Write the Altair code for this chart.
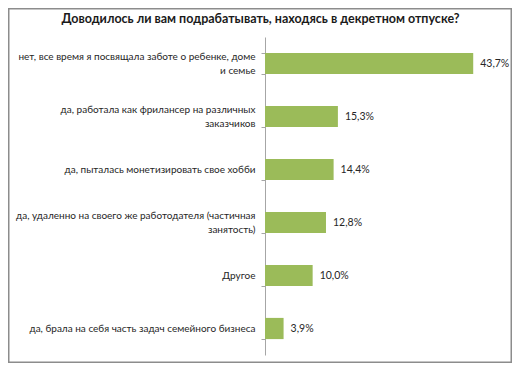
import altair as alt
import pandas as pd

categories = [
    "нет, все время я посвящала заботе о ребенке,  доме\nи семье",
    "да, работала как фрилансер на различных\nзаказчиков",
    "да, пыталась монетизировать свое хобби",
    "да, удаленно на своего же работодателя (частичная\nзанятость)",
    "Другое",
    "да, брала на себя часть задач семейного бизнеса",
]
values = [43.7, 15.3, 14.4, 12.8, 10.0, 3.9]

df = pd.DataFrame({"cat": categories, "value": values})

W, H = 243, 318
PL, PT, PR, PB = 257, 29, 4, 8
FONT = "Lato"

y = alt.Y(
    "cat:N",
    sort=None,
    scale=alt.Scale(paddingInner=0.6, paddingOuter=0.3),
    axis=alt.Axis(
        title=None,
        labelExpr="datum.value ? split(datum.value, '\\n') : ''",
        labelFont=FONT,
        labelFontSize=10,
        labelColor="#262626",
        labelLimit=300,
        labelLineHeight=14,
        labelPadding=6,
        labelOffset={
            "condition": {"test": "indexof(datum.value || '', '\\n') >= 0", "value": -7},
            "value": 0,
        },
        tickBand="extent",
        tickSize=4,
        tickColor="#a6a6a6",
        domainColor="#a6a6a6",
        labelAlign="right",
    ),
)
x = alt.X("value:Q", scale=alt.Scale(domain=[0, 51]), axis=None)

bars = alt.Chart(df).mark_bar(color="#9BBB59").encode(x=x, y=y)
labels = (
    alt.Chart(df)
    .transform_calculate(lbl="replace(format(datum.value, '.1f'), '.', ',') + '%'")
    .mark_text(align="left", dx=7, font=FONT, fontSize=10.5, color="#262626")
    .encode(x=x, y=y, text="lbl:N")
)
border = (
    alt.Chart(pd.DataFrame({"k": [0]}))
    .mark_rect(fill="white", fillOpacity=0, stroke="#8c8c8c", strokeWidth=1.5, clip=False)
    .encode(
        x=alt.value(-PL + 0.75),
        x2=alt.value(W + PR - 0.75),
        y=alt.value(-PT + 0.75),
        y2=alt.value(H + PB - 0.75),
    )
)

chart = (
    alt.layer(border, bars, labels)
    .properties(
        width=W,
        height=H,
        autosize=alt.AutoSizeParams(type="none"),
        padding={"left": PL, "top": PT, "right": PR, "bottom": PB},
        title=alt.TitleParams(
            "Доводилось ли вам подрабатывать, находясь в декретном отпуске?",
            font=FONT,
            fontSize=12.5,
            fontWeight="bold",
            color="#1a1a1a",
            anchor="middle",
            offset=0,
            dy=17,
            dx=-126,
        ),
    )
    .configure_view(stroke=None)
)

chart.save("out.html", embed_options={"renderer": "svg", "actions": False})
